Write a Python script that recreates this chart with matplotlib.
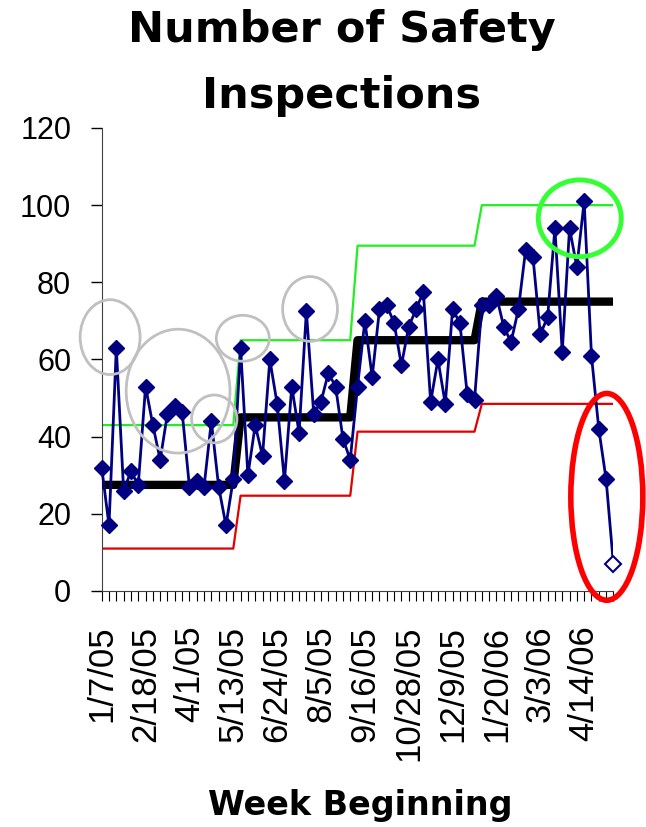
import matplotlib
matplotlib.use("Agg")
import matplotlib.pyplot as plt
from matplotlib.patches import Ellipse
import numpy as np
import pandas as pd

# weekly counts, week beginning 1/7/05
inspections = [32, 17, 63, 26, 31, 27.5, 53, 43, 34, 46, 48, 46.5, 27, 28.5, 27,
               44, 27, 17, 29, 63, 30, 43, 35, 60, 48.5, 28.5, 53, 41, 72.5, 46,
               49, 56.5, 53, 39.5, 34, 53, 70, 55.5, 73, 74, 69.5, 58.5, 68.5, 73,
               77.5, 49, 60, 48.5, 73, 69.5, 51, 49.5, 74, 74, 76.5, 68.5, 64.5, 73,
               88.5, 86.5, 66.5, 71, 94, 62, 94, 84, 101, 61, 42, 29, 7]

# control chart phases (number of weeks in each)
phase_weeks = [19, 16, 17, 19]
center_line = [27.5, 45, 65, 75]
upper_limit = [43, 65, 89.5, 100]
lower_limit = [11, 24.7, 41.3, 48.5]

weeks = pd.date_range("2005-01-07", periods=len(inspections), freq="7D")
week_labels = [f"{d.month}/{d.day}/{d.strftime('%y')}" for d in weeks]

# hand drawn circles: (x week, y value, width, height, colour, line width)
circles = [
    (1.15, 65.8, 8.2, 19.4, "#c0c0c0", 2),
    (10.45, 51.8, 14.2, 32.1, "#c0c0c0", 2),
    (15.4, 44.6, 6.2, 12.4, "#c0c0c0", 2),
    (19.3, 65.5, 7.25, 11.9, "#c0c0c0", 2),
    (28.5, 73.1, 7.5, 16.8, "#c0c0c0", 2),
    (65.4, 96.6, 11.35, 19.9, "#33ff33", 3.5),
    (69.1, 24.4, 9.85, 53.6, "#ff0000", 4),
]

x = np.arange(len(inspections))
cl = np.repeat(center_line, phase_weeks)
ucl = np.repeat(upper_limit, phase_weeks)
lcl = np.repeat(lower_limit, phase_weeks)

fig = plt.figure(figsize=(6.46, 8.27), dpi=100)
ax = fig.add_axes([101.7 / 646, 236 / 827, 511.7 / 646, 463 / 827])

ax.plot(x, lcl, color="#e00000", lw=1.6, zorder=2)
ax.plot(x, ucl, color="#22ee22", lw=1.6, zorder=2)
ax.plot(x, cl, color="black", lw=6, solid_capstyle="round", zorder=3)
ax.plot(x[:-1], inspections[:-1], color="#000080", lw=2, marker="D",
        markersize=8, zorder=4, clip_on=False)
ax.plot(x[-2:], inspections[-2:], color="#000080", lw=2, zorder=4)
ax.plot(x[-1], inspections[-1], marker="D", markersize=8, markerfacecolor="white",
        markeredgecolor="#000080", markeredgewidth=1.5, zorder=5, clip_on=False)

for cx, cy, w, h, col, lw in circles:
    ax.add_patch(Ellipse((cx, cy), w, h, fill=False, edgecolor=col, lw=lw,
                         zorder=6, clip_on=False))

ax.set_xlim(0, len(inspections) - 1)
ax.set_ylim(0, 120)
ax.set_yticks(range(0, 121, 20))
ax.set_xticks(x[::6])
ax.set_xticklabels(week_labels[::6], rotation=90, ha="center", va="top",
                   fontfamily="Liberation Sans", fontsize=25)
ax.set_xticks(x, minor=True)
for lab in ax.get_yticklabels():
    lab.set_fontfamily("Liberation Sans")
    lab.set_fontsize(22)

ax.tick_params(axis="y", direction="out", length=8, width=1, pad=14, colors="black")
ax.tick_params(axis="x", which="both", direction="out", length=7, width=0.8,
               pad=18, colors="black")
ax.spines["top"].set_visible(False)
ax.spines["right"].set_visible(False)
ax.spines["left"].set_color("#404040")
ax.spines["bottom"].set_color("#404040")

fig.text(342 / 646, 1 - 42 / 827, "Number of Safety", ha="center", va="baseline",
         fontsize=31, fontweight="bold", fontfamily="DejaVu Sans")
fig.text(342 / 646, 1 - 108 / 827, "Inspections", ha="center", va="baseline",
         fontsize=31, fontweight="bold", fontfamily="DejaVu Sans")
fig.text(360 / 646, 1 - 815 / 827, "Week Beginning", ha="center", va="baseline",
         fontsize=24, fontweight="bold", fontfamily="DejaVu Sans")

fig.savefig("out.png", dpi=100, facecolor="white")
